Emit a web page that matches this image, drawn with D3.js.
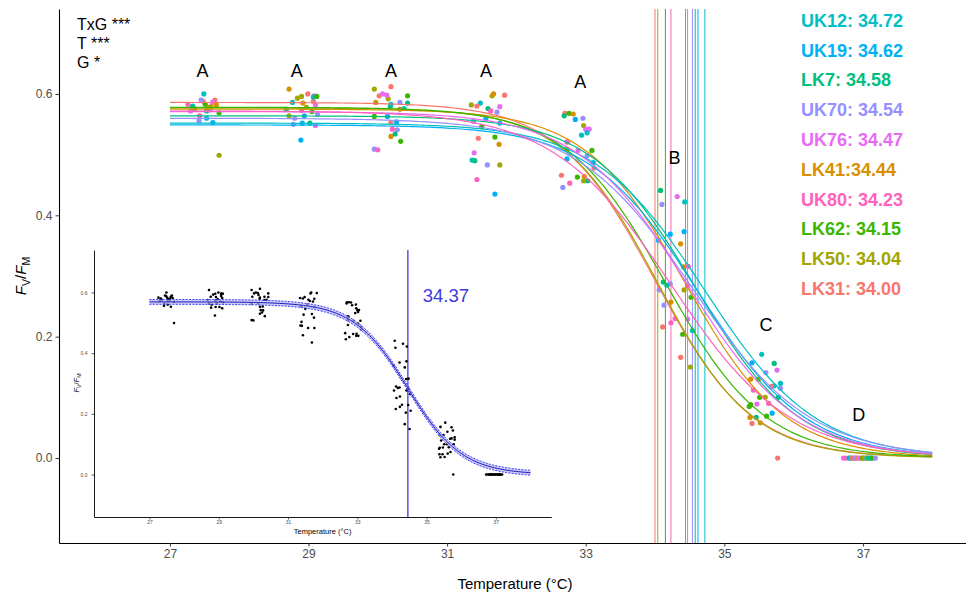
<!DOCTYPE html>
<html>
<head>
<meta charset="utf-8">
<script src="https://cdn.jsdelivr.net/npm/d3@7"></script>
<style>
  body { margin: 0; background: #fff; }
  svg { display: block; font-family: 'Liberation Sans', Arial, Helvetica, sans-serif; }
</style>
</head>
<body>
<svg id="chart" width="966" height="595"></svg>
<script>
// genotypes, ggplot hue palette, fitted logistic params
const genotypes = ['LK31', 'LK41', 'LK50', 'LK62', 'LK7', 'UK12', 'UK19', 'UK70', 'UK76', 'UK80'];
const colors = ['#F8766D', '#D89000', '#A3A500', '#39B600', '#00BF7D', '#00BFC4', '#00B0F6', '#9590FF', '#E76BF3', '#FF62BC'];
const t50 = [34.00, 34.44, 34.04, 34.15, 34.58, 34.72, 34.62, 34.54, 34.47, 34.23];
const plateau = [0.586, 0.575, 0.577, 0.578, 0.564, 0.552, 0.549, 0.560, 0.571, 0.572];
const slope = [0.70, 0.72, 0.68, 0.72, 0.75, 0.80, 0.78, 0.85, 0.80, 0.85];

const legendOrder = ['UK12', 'UK19', 'LK7', 'UK70', 'UK76', 'LK41', 'UK80', 'LK62', 'LK50', 'LK31'];
const legendLabels = ['UK12: 34.72', 'UK19: 34.62', 'LK7: 34.58', 'UK70: 34.54', 'UK76: 34.47',
  'LK41:34.44', 'UK80: 34.23', 'LK62: 34.15', 'LK50: 34.04', 'LK31: 34.00'];

const stats = ['TxG ***', 'T ***', 'G *'];
const letters = ['A', 'A', 'A', 'A', 'A', 'B', 'C', 'D'];
const letterT = [27.47, 28.83, 30.19, 31.56, 32.92, 34.28, 35.60, 36.94];
const letterV = [0.628, 0.628, 0.628, 0.628, 0.609, 0.485, 0.209, 0.061];

const xTicks = [27, 29, 31, 33, 35, 37];
const yTicks = [0, 0.2, 0.4, 0.6];

// pooled fit for the inset
const pooledFit = { top: 0.569, t50: 34.46, s: 0.78, ci: 0.008 };
const pooledLabel = '34.37';

// measurements per heating step: [genotype, temperature, Fv/Fm]
const heat1 = [
  ['LK31', 27.48, 0.588], ['LK31', 27.65, 0.590], ['LK31', 27.55, 0.578],
  ['UK80', 27.26, 0.583], ['UK80', 27.43, 0.564], ['UK80', 27.62, 0.586],
  ['UK12', 27.49, 0.600], ['UK12', 27.33, 0.580],
  ['UK70', 27.45, 0.590], ['UK70', 27.42, 0.556], ['UK70', 27.58, 0.574],
  ['LK62', 27.71, 0.569], ['LK62', 27.51, 0.583],
  ['LK50', 27.59, 0.579], ['LK50', 27.71, 0.499], ['LK50', 27.36, 0.575],
  ['LK7', 27.33, 0.578], ['LK7', 27.53, 0.572],
  ['UK19', 27.62, 0.553], ['UK19', 27.53, 0.560],
  ['UK76', 27.62, 0.586], ['UK76', 27.30, 0.572],
  ['LK41', 27.55, 0.577], ['LK41', 27.67, 0.582]
];
const heat2 = [
  ['LK41', 28.72, 0.608], ['LK41', 28.92, 0.585],
  ['LK50', 28.84, 0.593], ['LK50', 28.90, 0.596], ['LK50', 28.97, 0.578], ['LK50', 28.72, 0.564],
  ['LK31', 28.99, 0.600], ['LK31', 29.07, 0.588],
  ['UK76', 29.08, 0.597], ['UK76', 29.10, 0.582], ['UK76', 29.10, 0.548],
  ['UK12', 29.07, 0.595], ['UK12', 28.77, 0.586],
  ['LK62', 29.12, 0.596], ['LK62', 29.05, 0.571],
  ['LK7', 28.68, 0.575], ['LK7', 29.02, 0.552],
  ['UK70', 28.80, 0.560], ['UK70', 29.13, 0.567], ['UK70', 28.78, 0.550],
  ['UK19', 28.94, 0.564], ['UK19', 28.91, 0.552], ['UK19', 28.89, 0.524],
  ['UK80', 28.90, 0.573]
];
const heat3 = [
  ['LK50', 29.95, 0.608], ['LK50', 30.15, 0.592],
  ['LK31', 30.19, 0.612], ['LK31', 30.02, 0.597], ['LK31', 30.19, 0.553],
  ['UK76', 30.07, 0.600], ['UK76', 30.13, 0.598],
  ['LK62', 30.43, 0.597], ['LK62', 29.95, 0.563], ['LK62', 30.33, 0.522],
  ['LK41', 29.97, 0.586], ['LK41', 30.32, 0.575], ['LK41', 30.19, 0.530],
  ['UK70', 30.32, 0.586], ['UK70', 30.28, 0.541], ['UK70', 29.95, 0.509],
  ['LK7', 30.43, 0.585], ['LK7', 30.18, 0.579], ['LK7', 30.25, 0.534],
  ['UK12', 30.19, 0.583], ['UK12', 30.38, 0.576],
  ['UK19', 30.14, 0.563], ['UK19', 30.27, 0.554],
  ['UK80', 30.21, 0.542], ['UK80', 30.00, 0.508]
];
const heat4 = [
  ['LK50', 31.35, 0.582], ['LK50', 31.65, 0.597], ['LK50', 31.76, 0.483],
  ['UK12', 31.48, 0.585], ['UK12', 31.36, 0.491],
  ['LK41', 31.67, 0.600], ['LK41', 31.75, 0.517],
  ['LK31', 31.83, 0.598], ['LK31', 31.43, 0.580], ['LK31', 31.45, 0.527],
  ['UK76', 31.76, 0.579], ['UK76', 31.39, 0.503],
  ['LK7', 31.59, 0.576], ['LK7', 31.40, 0.490],
  ['UK80', 31.63, 0.572], ['UK80', 31.43, 0.459],
  ['UK70', 31.72, 0.570], ['UK70', 31.38, 0.555], ['UK70', 31.58, 0.483],
  ['UK19', 31.56, 0.560], ['UK19', 31.76, 0.552], ['UK19', 31.69, 0.435],
  ['LK62', 31.50, 0.546], ['LK62', 31.69, 0.529]
];
const heat5 = [
  ['LK31', 32.70, 0.568], ['LK31', 32.74, 0.521], ['LK31', 33.12, 0.478], ['LK31', 32.65, 0.466],
  ['LK7', 32.69, 0.564], ['LK7', 33.03, 0.457],
  ['LK62', 32.76, 0.568], ['LK62', 33.09, 0.507], ['LK62', 32.88, 0.463],
  ['LK41', 32.82, 0.567], ['LK41', 32.98, 0.464],
  ['UK19', 32.85, 0.558], ['UK19', 32.73, 0.493], ['UK19', 33.11, 0.487],
  ['UK70', 32.96, 0.560], ['UK70', 33.02, 0.498], ['UK70', 32.67, 0.446],
  ['LK50', 32.97, 0.548], ['LK50', 32.73, 0.509], ['LK50', 32.97, 0.457],
  ['UK76', 33.00, 0.542], ['UK76', 33.05, 0.542], ['UK76', 32.89, 0.507],
  ['UK12', 33.02, 0.536], ['UK12', 32.94, 0.532],
  ['UK80', 32.77, 0.453], ['UK80', 32.73, 0.521]
];
const heat6 = [
  ['LK7', 34.08, 0.441], ['LK7', 34.12, 0.290],
  ['UK70', 34.10, 0.418], ['UK70', 34.22, 0.287], ['UK70', 34.06, 0.277], ['UK70', 34.13, 0.252],
  ['UK76', 34.32, 0.431], ['UK76', 34.47, 0.229],
  ['UK12', 34.43, 0.422], ['UK12', 34.17, 0.285], ['UK12', 34.54, 0.210],
  ['UK19', 34.42, 0.373], ['UK19', 34.22, 0.369], ['UK19', 34.05, 0.359],
  ['LK41', 34.37, 0.353], ['LK41', 34.41, 0.315], ['LK41', 34.23, 0.257],
  ['UK80', 34.48, 0.316], ['UK80', 34.47, 0.284], ['UK80', 34.29, 0.230], ['UK80', 34.23, 0.223],
  ['LK62', 34.52, 0.265], ['LK62', 34.40, 0.204],
  ['LK50', 34.42, 0.277], ['LK50', 34.51, 0.150],
  ['LK31', 34.11, 0.216], ['LK31', 34.37, 0.166]
];
const heat7 = [
  ['UK12', 35.54, 0.171], ['UK12', 35.81, 0.123], ['UK12', 35.72, 0.119],
  ['UK19', 35.40, 0.157], ['UK19', 35.69, 0.074],
  ['LK7', 35.72, 0.156], ['LK7', 35.46, 0.067], ['LK7', 35.78, 0.100],
  ['UK76', 35.76, 0.145], ['UK76', 35.47, 0.089],
  ['UK70', 35.60, 0.141], ['UK70', 35.81, 0.115],
  ['LK50', 35.49, 0.130], ['LK50', 35.59, 0.100],
  ['LK41', 35.38, 0.130], ['LK41', 35.37, 0.067], ['LK41', 35.52, 0.058],
  ['LK31', 35.68, 0.118], ['LK31', 35.40, 0.057], ['LK31', 35.77, 0.000],
  ['UK80', 35.42, 0.112], ['UK80', 35.64, 0.090],
  ['LK62', 35.51, 0.100], ['LK62', 35.36, 0.085], ['LK62', 35.61, 0.069], ['LK62', 35.38, 0.088]
];
const heat8 = [
  ['UK76', 36.72, 0], ['UK80', 36.76, 0], ['UK12', 36.80, 0], ['UK19', 36.82, 0],
  ['LK31', 36.84, 0], ['LK50', 36.86, 0], ['UK80', 36.88, 0], ['UK70', 36.90, 0],
  ['LK31', 36.92, 0], ['UK76', 36.95, 0], ['LK41', 36.98, 0], ['LK62', 37.00, 0],
  ['LK50', 37.02, 0], ['UK19', 37.05, 0], ['LK41', 37.06, 0], ['LK7', 37.08, 0],
  ['UK12', 37.11, 0], ['LK7', 37.12, 0], ['LK62', 37.14, 0], ['UK70', 37.18, 0]
];

const points = [...heat1, ...heat2, ...heat3, ...heat4, ...heat5, ...heat6, ...heat7, ...heat8]
  .map(([g, t, v]) => ({ g, t, v }));

const colorOf = d3.scaleOrdinal().domain(genotypes).range(colors);

const fits = genotypes.map((g, i) => ({ g, top: plateau[i], t50: t50[i], s: slope[i] }));
const logistic = (p, t) => p.top / (1 + Math.exp((t - p.t50) / p.s));
const curveT = d3.range(27, 38.001, 0.05);

const svg = d3.select('#chart');

// main panel scales
const x = d3.scaleLinear().domain([25.4, 38.6]).range([59, 973.8]);
const y = d3.scaleLinear().domain([-0.14, 0.74]).range([543, 9]);

function styleAxis(g, fontSize, lineWidth) {
  g.attr('font-family', null).attr('font-size', null);
  g.select('.domain').attr('stroke', '#000').attr('stroke-width', lineWidth);
  g.selectAll('.tick line').attr('stroke', '#333').attr('stroke-width', lineWidth * 0.9);
  g.selectAll('.tick text').attr('fill', '#4d4d4d').style('font-size', fontSize + 'px');
}

// T50 lines
svg.append('g')
  .selectAll('line')
  .data(fits)
  .join('line')
  .attr('x1', d => x(d.t50))
  .attr('x2', d => x(d.t50))
  .attr('y1', y.range()[0])
  .attr('y2', y.range()[1])
  .attr('stroke', d => colorOf(d.g))
  .attr('stroke-width', 1);

// points
svg.append('g')
  .selectAll('circle')
  .data(points)
  .join('circle')
  .attr('cx', d => x(d.t))
  .attr('cy', d => y(d.v))
  .attr('r', 2.6)
  .attr('fill', d => colorOf(d.g));

// fitted curves
const line = d3.line().x(d => x(d[0])).y(d => y(d[1]));
svg.append('g')
  .selectAll('path')
  .data(fits)
  .join('path')
  .attr('d', p => line(curveT.map(t => [t, logistic(p, t)])))
  .attr('fill', 'none')
  .attr('stroke', p => colorOf(p.g))
  .attr('stroke-width', 1.2);

// axes
svg.append('g')
  .attr('transform', `translate(0, ${y.range()[0]})`)
  .call(d3.axisBottom(x).tickValues(xTicks).tickSize(3.5).tickSizeOuter(0).tickPadding(3))
  .call(g => styleAxis(g, 12, 1.1));

svg.append('g')
  .attr('transform', `translate(${x.range()[0]}, 0)`)
  .call(d3.axisLeft(y).tickValues(yTicks).tickFormat(d3.format('.1f')).tickSize(3.5).tickSizeOuter(0).tickPadding(3))
  .call(g => styleAxis(g, 12, 1.1));

svg.append('text')
  .attr('x', 515)
  .attr('y', 589)
  .attr('text-anchor', 'middle')
  .style('font-size', '15px')
  .text('Temperature (°C)');

function fvfmLabel(sel, size) {
  sel.append('tspan').attr('font-style', 'italic').text('F');
  sel.append('tspan').attr('font-size', size * 0.7).attr('dy', size * 0.25).text('V');
  sel.append('tspan').attr('dy', -size * 0.25).text('/');
  sel.append('tspan').attr('font-style', 'italic').text('F');
  sel.append('tspan').attr('font-size', size * 0.7).attr('dy', size * 0.25).text('M');
}

svg.append('text')
  .attr('transform', 'translate(26, 276) rotate(-90)')
  .attr('text-anchor', 'middle')
  .attr('font-size', 15)
  .call(s => fvfmLabel(s, 15));

// significance annotations
svg.append('g')
  .selectAll('text')
  .data(stats)
  .join('text')
  .attr('x', 77)
  .attr('y', (d, i) => 30 + i * 19)
  .style('font-size', '16px')
  .text(d => d);

// group letters
svg.append('g')
  .selectAll('text')
  .data(letters)
  .join('text')
  .attr('x', (d, i) => x(letterT[i]))
  .attr('y', (d, i) => y(letterV[i]))
  .attr('text-anchor', 'middle')
  .style('font-size', '18px')
  .text(d => d);

// T50 legend
svg.append('g')
  .selectAll('text')
  .data(legendLabels)
  .join('text')
  .attr('x', 801)
  .attr('y', (d, i) => 26.7 + i * 29.8)
  .attr('fill', (d, i) => colorOf(legendOrder[i]))
  .style('font-size', '18px')
  .style('font-weight', 'bold')
  .text(d => d);

// ---- inset: all genotypes pooled ----
const xi = d3.scaleLinear().domain([25.4, 38.6]).range([94, 551.3]);
const yi = d3.scaleLinear().domain([-0.14, 0.74]).range([517, 250]);
const inset = svg.append('g');

const insetT = curveT.map(t => [t, logistic(pooledFit, t)]);
const lineI = d3.line().x(d => xi(d[0])).y(d => yi(d[1]));

inset.append('line')
  .attr('x1', xi(pooledFit.t50))
  .attr('x2', xi(pooledFit.t50))
  .attr('y1', yi.range()[0])
  .attr('y2', yi.range()[1])
  .attr('stroke', '#3c3cdc')
  .attr('stroke-width', 1.3);

inset.append('g')
  .selectAll('circle')
  .data(points)
  .join('circle')
  .attr('cx', d => xi(d.t))
  .attr('cy', d => yi(d.v))
  .attr('r', 1.3)
  .attr('fill', '#000');

inset.append('path')
  .attr('d', d3.area()
    .x(d => xi(d[0]))
    .y0(d => yi(d[1] - pooledFit.ci))
    .y1(d => yi(d[1] + pooledFit.ci))(insetT))
  .attr('fill', '#b8b8ee')
  .attr('opacity', 0.7);

[-1, 1].forEach(sign => {
  inset.append('path')
    .attr('d', lineI(insetT.map(d => [d[0], d[1] + sign * pooledFit.ci])))
    .attr('fill', 'none')
    .attr('stroke', '#2020ff')
    .attr('stroke-width', 0.9)
    .attr('stroke-dasharray', '2,1.3');
});

inset.append('path')
  .attr('d', lineI(insetT))
  .attr('fill', 'none')
  .attr('stroke', '#1414c0')
  .attr('stroke-width', 1);

inset.append('g')
  .attr('transform', `translate(0, ${yi.range()[0]})`)
  .call(d3.axisBottom(xi).tickValues(xTicks).tickSize(2.5).tickSizeOuter(0).tickPadding(1))
  .call(g => styleAxis(g, 5, 0.9));

inset.append('g')
  .attr('transform', `translate(${xi.range()[0]}, 0)`)
  .call(d3.axisLeft(yi).tickValues(yTicks).tickFormat(d3.format('.1f')).tickSize(2.5).tickSizeOuter(0).tickPadding(4))
  .call(g => styleAxis(g, 5, 0.9));

inset.append('text')
  .attr('x', 322.6)
  .attr('y', 533.5)
  .attr('text-anchor', 'middle')
  .style('font-size', '7.5px')
  .text('Temperature (°C)');

inset.append('text')
  .attr('transform', 'translate(79, 383) rotate(-90)')
  .attr('text-anchor', 'middle')
  .attr('font-size', 7.5)
  .call(s => fvfmLabel(s, 7.5));

inset.append('text')
  .attr('x', 422.7)
  .attr('y', 302)
  .attr('fill', '#3b3bdc')
  .style('font-size', '18.5px')
  .text(pooledLabel);
</script>
</body>
</html>
